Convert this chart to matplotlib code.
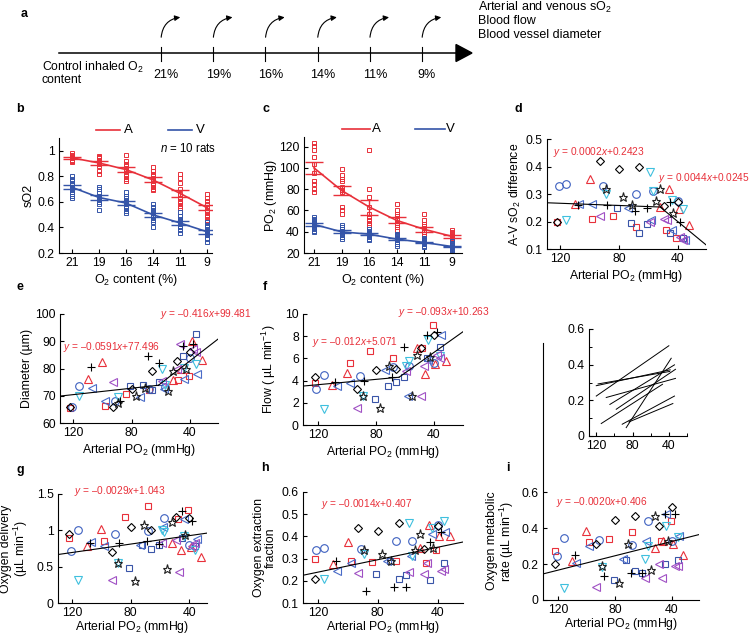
import numpy as np
import matplotlib.pyplot as plt
from matplotlib.patches import FancyArrowPatch, Polygon

plt.rcParams['font.family'] = ['Liberation Sans', 'DejaVu Sans']
plt.rcParams['mathtext.fontset'] = 'custom'
plt.rcParams['mathtext.rm'] = 'Liberation Sans'
plt.rcParams['mathtext.it'] = 'Liberation Sans:italic'
plt.rcParams['font.size'] = 9
plt.rcParams['axes.linewidth'] = 0.8

# ---- data ----
levels = ['21', '19', '16', '14', '11', '9']

# panel b: sO2 per O2 level (10 rats each)
so2_art = [[0.98, 0.97, 0.96, 0.95, 0.95, 0.94, 0.94, 0.93, 0.92, 0.91],
           [0.96, 0.95, 0.94, 0.93, 0.92, 0.91, 0.90, 0.88, 0.84, 0.82],
           [0.97, 0.92, 0.90, 0.88, 0.86, 0.84, 0.82, 0.80, 0.78, 0.76],
           [0.87, 0.84, 0.82, 0.80, 0.78, 0.76, 0.74, 0.72, 0.70, 0.69],
           [0.82, 0.79, 0.75, 0.70, 0.66, 0.63, 0.61, 0.59, 0.57, 0.55],
           [0.66, 0.63, 0.61, 0.58, 0.56, 0.54, 0.52, 0.50, 0.48, 0.46]]
so2_ven = [[0.80, 0.78, 0.76, 0.74, 0.72, 0.70, 0.69, 0.68, 0.65, 0.63],
           [0.72, 0.70, 0.67, 0.65, 0.64, 0.63, 0.62, 0.60, 0.58, 0.54],
           [0.68, 0.65, 0.63, 0.61, 0.60, 0.58, 0.57, 0.55, 0.53, 0.51],
           [0.58, 0.56, 0.54, 0.52, 0.51, 0.50, 0.48, 0.46, 0.44, 0.40],
           [0.52, 0.49, 0.47, 0.45, 0.44, 0.43, 0.41, 0.40, 0.38, 0.36],
           [0.44, 0.42, 0.40, 0.38, 0.37, 0.36, 0.35, 0.34, 0.31, 0.29]]

# panel c: PO2 per O2 level
po2_art_lv = [[123, 121, 117, 110, 104, 95, 88, 85, 80, 77],
              [99, 93, 90, 88, 82, 79, 77, 63, 60, 57],
              [117, 80, 73, 63, 57, 54, 51, 48, 46, 43],
              [66, 60, 57, 55, 51, 48, 46, 44, 41, 38],
              [57, 51, 47, 45, 42, 40, 38, 36, 34, 32],
              [42, 40, 39, 37, 36, 35, 34, 33, 31, 29]]
po2_ven_lv = [[54, 52, 51, 49, 48, 46, 45, 43, 41, 40],
              [46, 44.5, 43, 41, 41, 40, 38, 37, 35, 33.5],
              [43, 41, 40, 39, 38, 37.6, 37, 35, 33.5, 32.6],
              [38, 37, 35.7, 35, 33.5, 32.6, 32, 30.4, 28.8, 27],
              [34, 33, 32, 31, 30, 29, 28.5, 28, 27, 26],
              [31, 29, 28, 27, 26, 25.5, 25, 24, 23, 22]]

# panels d-i: one row per rat, one column per O2 level
po2 = [[122, 98, 84, 68, 48, 41],
       [110, 100, 52, 46, 39, 32],
       [121, 116, 91, 68, 57, 40],
       [81, 72, 66, 61, 45, 36],
       [107, 98, 74, 58, 44, 35],
       [116, 89, 59, 57, 44, 36],
       [93, 59, 49, 47, 38, 36],
       [122, 93, 80, 66, 49, 40],
       [89, 77, 71, 55, 52, 43],
       [108, 88, 69, 61, 45, 38]]
avsd = [[0.20, 0.21, 0.22, 0.18, 0.17, 0.14],
        [0.264, 0.356, 0.253, 0.32, 0.245, 0.188],
        [0.33, 0.336, 0.328, 0.30, 0.312, 0.275],
        [0.25, 0.195, 0.16, 0.19, 0.16, 0.14],
        [0.265, 0.264, 0.25, 0.207, 0.168, 0.134],
        [0.207, 0.30, 0.38, 0.31, 0.28, 0.247],
        [0.22, 0.20, 0.21, 0.205, 0.143, 0.134],
        [0.20, 0.419, 0.391, 0.398, 0.255, 0.27],
        [0.32, 0.29, 0.26, 0.273, 0.32, 0.23],
        [0.26, 0.259, 0.237, 0.25, 0.27, 0.198]]
diam = [[65.5, 66.4, 70.6, 72, 75.9, 77.4],
        [76.3, 82.3, 75.7, 80, 90, 83],
        [65.7, 73.5, 68, 72.5, 73.2, 83.9],
        [73.5, 74, 72, 75, 84.5, 92.7],
        [73, 68, 69.5, 72.5, 76, 78],
        [69.8, 69.5, 79.8, 74, 80.2, 81.8],
        [74.9, 75.5, 80, 89, 87.2, 86],
        [65.7, 65.7, 72.5, 79, 82.9, 85.9],
        [67.5, 69.8, 72.8, 71.6, 79, 80],
        [80.4, 68, 84.5, 82, 88.1, 89]]
flow = [[3.8, 5.6, 6.7, 6.0, 6.9, 9.0],
        [3.6, 4.7, 6.9, 4.6, 5.5, 5.8],
        [3.25, 4.5, 4.43, 5.2, 5.36, 5.6],
        [2.3, 3.5, 3.85, 4.3, 6.0, 7.0],
        [3.5, 3.8, 5.0, 2.6, 5.9, 8.1],
        [1.45, 2.6, 5.3, 5.8, 7.7, 6.2],
        [1.5, 4.9, 2.6, 5.3, 6.3, 6.0],
        [4.28, 3.28, 4.97, 5.06, 6.93, 8.13],
        [2.6, 1.5, 5.3, 2.6, 6.3, 6.1],
        [3.9, 4.0, 4.3, 7.0, 8.1, 8.4]]
delivery = [[0.90, 0.85, 1.18, 1.34, 1.15, 1.28],
            [0.79, 1.02, 0.83, 0.73, 0.77, 0.63],
            [0.72, 1.0, 0.95, 0.99, 1.17, 0.80],
            [0.48, 0.80, 0.75, 0.80, 0.90, 0.78],
            [0.84, 0.79, 0.80, 1.05, 1.15, 0.88],
            [0.31, 0.55, 1.0, 0.98, 0.92, 0.73],
            [0.31, 0.83, 0.87, 0.43, 0.78, 0.82],
            [0.95, 0.70, 1.04, 1.01, 1.19, 1.17],
            [0.55, 0.30, 1.07, 0.47, 1.11, 0.93],
            [0.83, 0.83, 0.86, 0.81, 1.27, 1.13]]
oef = [[0.30, 0.29, 0.285, 0.29, 0.28, 0.34],
       [0.275, 0.375, 0.35, 0.45, 0.40, 0.40],
       [0.34, 0.35, 0.345, 0.38, 0.38, 0.45],
       [0.23, 0.29, 0.21, 0.225, 0.205, 0.28],
       [0.245, 0.28, 0.29, 0.31, 0.41, 0.42],
       [0.21, 0.32, 0.46, 0.31, 0.44, 0.47],
       [0.235, 0.24, 0.23, 0.28, 0.245, 0.255],
       [0.21, 0.44, 0.425, 0.46, 0.345, 0.445],
       [0.34, 0.32, 0.29, 0.34, 0.41, 0.35],
       [0.29, 0.155, 0.17, 0.17, 0.375, 0.42]]
cmro2 = [[0.27, 0.32, 0.34, 0.38, 0.33, 0.44],
         [0.218, 0.384, 0.29, 0.33, 0.31, 0.25],
         [0.244, 0.347, 0.332, 0.308, 0.44, 0.33],
         [0.11, 0.22, 0.16, 0.15, 0.198, 0.225],
         [0.207, 0.30, 0.23, 0.33, 0.476, 0.354],
         [0.068, 0.185, 0.227, 0.30, 0.41, 0.35],
         [0.074, 0.124, 0.203, 0.124, 0.188, 0.188],
         [0.198, 0.314, 0.443, 0.465, 0.41, 0.52],
         [0.188, 0.096, 0.314, 0.166, 0.465, 0.33],
         [0.25, 0.133, 0.148, 0.148, 0.476, 0.476]]

# fitted lines (slope, intercept)
fit_d = [(0.0002, 0.2423), (0.0044, 0.0245)]
fit_e = [(-0.0591, 77.496), (-0.416, 99.481)]
fit_f = [(-0.012, 5.071), (-0.093, 10.263)]
fit_g = [(-0.0029, 1.043)]
fit_h = [(-0.0014, 0.407)]
fit_i = [(-0.0020, 0.406)]

# inset: per-rat CMRO2 fits (start PO2, end PO2, start y, end y)
inset_x0 = [120, 118, 120, 109, 105, 98, 114.5, 87, 91.4, 84]
inset_x1 = [38.5, 39, 40, 32.7, 33.8, 32.7, 47, 37.4, 33.8, 35.6]
inset_y0 = [0.282, 0.292, 0.224, 0.216, 0.177, 0.15, 0.07, 0.047, 0.066, 0.079]
inset_y1 = [0.371, 0.362, 0.506, 0.323, 0.399, 0.374, 0.29, 0.436, 0.224, 0.182]

# ---- styles ----
RED = '#e8303a'
BLUE = '#3454a8'
rat_markers = ['s', '^', 'o', 's', '<', 'v', '<', 'D', '*', '+']
rat_colors = [RED, RED, '#3d60c0', '#3a55a8', '#4a6cc8', '#3fc0de', '#a050c4', 'k', '#222222', 'k']
rat_sizes = [5, 5.5, 5.5, 5, 5.5, 5.5, 5.5, 4.2, 6.5, 6]

W, H = 750, 636
fig = plt.figure(figsize=(7.5, 6.36), dpi=100)


def add_ax(l, t, r, b):
    ax = fig.add_axes([l / W, 1 - b / H, (r - l) / W, (b - t) / H])
    ax.spines['top'].set_visible(False)
    ax.spines['right'].set_visible(False)
    ax.tick_params(direction='in', length=3, width=0.8, labelsize=8.8, pad=3)
    ax.tick_params(which='minor', direction='in', length=2, width=0.7)
    ax.patch.set_alpha(0)
    return ax


# overlay for panel a and letters
ov = fig.add_axes([0, 0, 1, 1])
ov.set_xlim(0, W)
ov.set_ylim(H, 0)
ov.axis('off')

ov.plot([59, 458], [53, 53], color='k', lw=1.1)
ov.add_patch(Polygon([(456, 44.5), (472, 53), (456, 61.5)], closed=True, color='k'))
for i, lv in enumerate(levels):
    x = 161 + i * 52.2
    ov.plot([x, x], [47, 61], color='k', lw=0.8)
    ov.text(x + 5, 75, lv + '%', ha='center', va='center', fontsize=9)
    ov.add_patch(FancyArrowPatch((x, 40), (x + 22, 17), connectionstyle='arc3,rad=-0.45',
                                 arrowstyle='-|>', mutation_scale=8, lw=0.8, color='k'))
ov.text(42, 67, 'Control inhaled O$_2$', ha='left', va='center', fontsize=8.8)
ov.text(42, 80, 'content', ha='left', va='center', fontsize=8.8)
ov.text(478, 7, 'Arterial and venous sO$_2$', ha='left', va='center', fontsize=9)
ov.text(478, 21, 'Blood flow', ha='left', va='center', fontsize=9)
ov.text(478, 35, 'Blood vessel diameter', ha='left', va='center', fontsize=9)

for lab, x, y in [('a', 24, 14), ('b', 20, 109), ('c', 266, 109), ('d', 518, 109),
                  ('e', 20, 287), ('f', 265, 287), ('g', 20, 470), ('h', 265, 468), ('i', 508, 468)]:
    ov.text(x, y, lab, ha='center', va='center', fontsize=9, fontweight='bold')


def level_panel(ax, art, ven, msize):
    xs = np.arange(1, 7)
    for data, col in [(art, RED), (ven, BLUE)]:
        arr = np.array(data, dtype=float)
        for i in range(6):
            ax.plot(np.full(arr.shape[1], xs[i]), arr[i], 's', mfc='none', mec=col, ms=msize, mew=0.7)
        m = arr.mean(axis=1)
        se = arr.std(axis=1, ddof=1) / np.sqrt(arr.shape[1])
        ax.plot(xs, m, color=col, lw=1.2)
        ax.errorbar(xs, m, yerr=se, fmt='none', ecolor=col, elinewidth=1, capsize=6.5, capthick=1)
    ax.set_xticks(xs)
    ax.set_xticklabels(levels)
    ax.set_xlabel('O$_2$ content (%)', fontsize=9, labelpad=2)


def legend_ab(ax, xa, xv, y):
    ax.plot(xa[:2], [y, y], color=RED, lw=1.2, transform=ax.transAxes, clip_on=False)
    ax.text(xa[2], y, 'A', color='k', ha='left', va='center', transform=ax.transAxes, fontsize=9.5)
    ax.plot(xv[:2], [y, y], color=BLUE, lw=1.2, transform=ax.transAxes, clip_on=False)
    ax.text(xv[2], y, 'V', color='k', ha='left', va='center', transform=ax.transAxes, fontsize=9.5)


# b
ax = add_ax(59, 138, 212, 253)
level_panel(ax, so2_art, so2_ven, 3.4)
ax.set_xlim(0.53, 6.18)
ax.set_ylim(0.2, 1.1)
ax.set_yticks([0.2, 0.4, 0.6, 0.8, 1.0])
ax.set_yticklabels(['0.2', '0.4', '0.6', '0.8', '1'])
ax.set_ylabel('sO2', fontsize=9)
ax.yaxis.set_label_coords(-0.16, 0.5)
legend_ab(ax, (0.242, 0.399, 0.425), (0.712, 0.869, 0.895), 1.07)
ax.text(1.03, 0.905, '$n$ = 10 rats', ha='right', va='center', transform=ax.transAxes, fontsize=8.3)

# c
ax = add_ax(304, 137, 462, 253)
level_panel(ax, po2_art_lv, po2_ven_lv, 3.4)
ax.set_xlim(0.64, 6.36)
ax.set_ylim(20, 129)
ax.set_yticks([20, 40, 60, 80, 100, 120])
ax.set_ylabel('PO$_2$ (mmHg)', fontsize=9)
ax.yaxis.set_label_coords(-0.16, 0.5)
legend_ab(ax, (0.24, 0.418, 0.432), (0.703, 0.892, 0.9), 1.07)


def po2_panel(ax, yvals, fits, xlim, eq_texts, lpad=2):
    for k in range(len(po2)):
        m, c, s = rat_markers[k], rat_colors[k], rat_sizes[k]
        ax.plot(po2[k], yvals[k], ls='none', marker=m, mfc='none', mec=c, ms=s, mew=0.8)
    x_hi, x_lo = xlim
    if len(fits) == 1:
        segs = [(x_hi, x_lo, fits[0])]
    else:
        (a1, b1), (a2, b2) = fits
        xb = (b2 - b1) / (a1 - a2)
        segs = [(x_hi, xb, fits[0]), (xb, x_lo, fits[1])]
    for xa, xb_, (a, b) in segs:
        xx = np.array([xa, xb_])
        ax.plot(xx, a * xx + b, color='k', lw=0.8)
    ax.set_xlim(*xlim)
    ax.set_xticks([120, 80, 40])
    ax.set_xlabel('Arterial PO$_2$ (mmHg)', fontsize=8.8, labelpad=lpad)
    for txt, x, y in eq_texts:
        ov.text(x, y, txt, color=RED, ha='left', va='center', fontsize=7.3)


# d
ax = add_ax(547, 139, 706, 249)
po2_panel(ax, avsd, fit_d, (129, 20.6),
          [('$y$ = 0.0002$x$+0.2423', 553, 152), ('$y$ = 0.0044$x$+0.0245', 658, 178)])
ax.set_ylim(0.1, 0.5)
ax.set_yticks([0.1, 0.2, 0.3, 0.4, 0.5])
ax.set_ylabel('A-V sO$_2$ difference', fontsize=8.8)
ax.yaxis.set_label_coords(-0.15, 0.5)

# e
ax = add_ax(60, 314, 218, 423)
po2_panel(ax, diam, fit_e, (128.9, 20.9),
          [('$y$ = \u20130.0591$x$+77.496', 63, 347), ('$y$ = \u20130.416$x$+99.481', 160, 314)])
ax.set_ylim(60, 100)
ax.set_yticks([60, 70, 80, 90, 100])
ax.set_ylabel('Diameter (\u00b5m)', fontsize=8.8)
ax.yaxis.set_label_coords(-0.17, 0.5)

# f
ax = add_ax(303, 314, 463, 425)
po2_panel(ax, flow, fit_f, (130.3, 20),
          [('$y$ = \u20130.012$x$+5.071', 312, 342), ('$y$ = \u20130.093$x$+10.263', 398, 312)])
ax.set_ylim(0, 10)
ax.set_yticks([0, 2, 4, 6, 8, 10])
ax.set_ylabel('Flow ( \u00b5L min$^{-1}$)', fontsize=8.8)
ax.yaxis.set_label_coords(-0.155, 0.5)

# inset
ax = add_ax(589, 329, 687, 436)
for x0, x1, y0, y1 in zip(inset_x0, inset_x1, inset_y0, inset_y1):
    ax.plot([x0, x1], [y0, y1], color='k', lw=0.7)
ax.set_xlim(128, 20)
ax.set_ylim(0, 0.6)
ax.set_xticks([120, 80, 40])
ax.set_xticks([100, 60, 20], minor=True)
ax.set_yticks([0, 0.2, 0.4, 0.6])
ax.set_yticklabels(['0', '0.2', '0.4', '0.6'])
ax.set_yticks([0.1, 0.3, 0.5], minor=True)

# g
ax = add_ax(58, 494, 207, 603)
po2_panel(ax, delivery, fit_g, (129.6, 28), [('$y$ = \u20130.0029$x$+1.043', 74, 491)], lpad=0)
ax.set_ylim(0, 1.5)
ax.set_yticks([0, 0.5, 1, 1.5])
ax.set_yticklabels(['0', '0.5', '1', '1.5'])
ax.set_ylabel('Oxygen delivery\n(\u00b5L min$^{-1}$)', fontsize=8.8, linespacing=1.0)
ax.yaxis.set_label_coords(-0.185, 0.5)

# h
ax = add_ax(303, 492, 463, 603)
po2_panel(ax, oef, fit_h, (130, 23), [('$y$ = \u20130.0014$x$+0.407', 321, 504)], lpad=0)
ax.set_ylim(0.1, 0.6)
ax.set_yticks([0.1, 0.2, 0.3, 0.4, 0.5, 0.6])
ax.set_ylabel('Oxygen extraction\nfraction', fontsize=8.8, linespacing=1.0)
ax.yaxis.set_label_coords(-0.165, 0.5)

# i
ax = add_ax(543, 343, 699, 600)
po2_panel(ax, cmro2, fit_i, (130.5, 21), [('$y$ = \u20130.0020$x$+0.406', 556, 502)], lpad=0)
ax.set_ylim(0, 1.43)
ax.set_yticks([0, 0.2, 0.4, 0.6])
ax.set_yticklabels(['0', '0.2', '0.4', '0.6'])
ax.set_ylabel('Oxygen metabolic\nrate (\u00b5L min$^{-1}$)', fontsize=8.8, linespacing=1.0)
ax.yaxis.set_label_coords(-0.17, 0.23)

fig.savefig('out.png', dpi=100)
